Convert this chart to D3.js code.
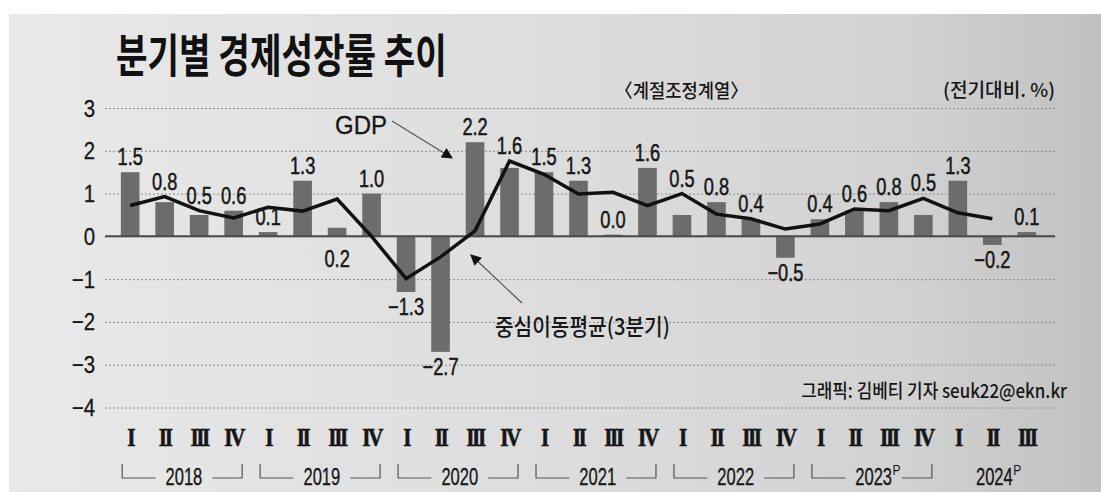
<!DOCTYPE html>
<html>
<head>
<meta charset="utf-8">
<script src="https://cdn.jsdelivr.net/npm/d3@7"></script>
<style>
  body { margin: 0; background: #fff; }
  svg { display: block; }
</style>
</head>
<body>
<svg id="chart" width="1101" height="492"></svg>
<script>

  // data (quarterly GDP growth, % q/q, seasonally adjusted)
  var years = ["2018", "2019", "2020", "2021", "2022", "2023", "2024"];
  var yearMarks = ["", "", "", "", "", "P", "P"];
  var quarterLabels = ["I", "II", "III", "IV"];
  var gdp = [1.5, 0.8, 0.5, 0.6, 0.1, 1.3, 0.2, 1.0, -1.3, -2.7, 2.2, 1.6, 1.5, 1.3, 0.04,
             1.6, 0.5, 0.8, 0.4, -0.5, 0.4, 0.6, 0.8, 0.5, 1.3, -0.2, 0.1];
  var movingAvg = [0.72, 0.93, 0.60, 0.43, 0.68, 0.59, 0.87, 0.0, -0.99, -0.48, 0.13, 1.76, 1.45,
                   0.99, 1.03, 0.72, 1.0, 0.52, 0.41, 0.17, 0.29, 0.64, 0.60, 0.89, 0.55, 0.41];
  var yTicks = [-4, -3, -2, -1, 0, 1, 2, 3];

  var W = 1101, H = 492;
  var sansFont = "'Liberation Sans', Arial, sans-serif";
  var krFont = "'Noto Sans CJK KR', 'Noto Sans', sans-serif";
  var ink = "#161616";

  // quarter keys: "2018 I" ... "2024 III"
  var keys = [];
  years.forEach(function(yr) {
    quarterLabels.forEach(function(q) { keys.push(yr + " " + q); });
  });
  keys = keys.slice(0, gdp.length);

  var svg = d3.select("#chart");

  //=========================================================================
  // background panel
  //=========================================================================
  var defs = svg.append("defs");
  var grad = defs.append("linearGradient").attr("id", "bg")
    .attr("x1", "0").attr("y1", "0").attr("x2", "1").attr("y2", "0");
  grad.append("stop").attr("offset", "0").attr("stop-color", "#e9e9e9");
  grad.append("stop").attr("offset", "0.5").attr("stop-color", "#dddddd");
  grad.append("stop").attr("offset", "0.82").attr("stop-color", "#d2d2d2");
  grad.append("stop").attr("offset", "1").attr("stop-color", "#c1c1c1");

  var marker = defs.append("marker").attr("id", "arrow")
    .attr("viewBox", "0 0 10 10").attr("refX", 9).attr("refY", 5)
    .attr("markerWidth", 12).attr("markerHeight", 11).attr("markerUnits", "userSpaceOnUse")
    .attr("orient", "auto");
  marker.append("path").attr("d", "M0,0 L10,5 L0,10 Z").attr("fill", "#111");

  svg.append("rect").attr("x", 9).attr("y", 14)
    .attr("width", W - 9).attr("height", H - 14).attr("fill", "url(#bg)");

  //=========================================================================
  // scales
  //=========================================================================
  var x = d3.scaleBand().domain(keys).range([105, 1052]).padding(0.46);
  var y = d3.scaleLinear().domain([-4, 3]).range([407.5, 108]);
  var bw = x.bandwidth();
  function cx(i) { return x(keys[i]) + bw / 2; }

  // text squeezed horizontally (the original uses a condensed face)
  function squeezed(parent, str, px, py, sx, opts) {
    var g = parent.append("g").attr("transform", "translate(" + px + "," + py + ")");
    var t = g.append("text")
      .attr("text-anchor", opts.anchor || "middle")
      .attr("font-family", opts.family || sansFont)
      .attr("font-size", opts.size || 23)
      .attr("font-weight", opts.weight || "normal")
      .attr("fill", opts.fill || ink)
      .attr("transform", "scale(" + sx + ",1)")
      .text(str);
    if (opts.spacing) t.attr("letter-spacing", opts.spacing);
    if (opts.stroke) t.attr("stroke", opts.fill || ink).attr("stroke-width", opts.stroke);
    return t;
  }

  // text squeezed to a given width
  function fitted(parent, str, px, py, width, opts) {
    var t = squeezed(parent, str, px, py, 1, opts);
    var len = t.node().getComputedTextLength();
    t.attr("transform", "scale(" + (width / len) + ",1)");
    return t;
  }

  //=========================================================================
  // grid + y labels
  //=========================================================================
  var grid = svg.append("g")
    .attr("transform", "translate(105,0)")
    .call(d3.axisLeft(y).tickValues(yTicks).tickSize(-950).tickFormat(""));
  grid.select(".domain").remove();
  grid.selectAll(".tick line")
    .attr("stroke", "#8c8c8c")
    .attr("stroke-width", 1)
    .attr("stroke-dasharray", "2,2");

  var fmtTick = function(v) { return (v < 0 ? "\u2212" : "") + Math.abs(v); };
  yTicks.forEach(function(t) {
    squeezed(svg, fmtTick(t), 95, y(t) + 8.5, 0.85, { anchor: "end", size: 24, stroke: 0.3 });
  });

  //=========================================================================
  // bars
  //=========================================================================
  svg.append("g").selectAll("rect")
    .data(gdp)
    .enter()
    .append("rect")
    .attr("x", function(d, i) { return x(keys[i]); })
    .attr("width", bw)
    .attr("y", function(d) { return y(Math.max(0, d)); })
    .attr("height", function(d) { return Math.abs(y(d) - y(0)); })
    .attr("fill", "#6c6c6c");

  // zero line
  svg.append("line")
    .attr("x1", 105).attr("x2", 1055)
    .attr("y1", y(0)).attr("y2", y(0))
    .attr("stroke", "#4a4a4a").attr("stroke-width", 2);

  //=========================================================================
  // moving average line
  //=========================================================================
  var line = d3.line()
    .x(function(d, i) { return cx(i); })
    .y(function(d) { return y(d); });

  svg.append("path")
    .datum(movingAvg)
    .attr("d", line)
    .attr("fill", "none")
    .attr("stroke", "#111")
    .attr("stroke-width", 3.5)
    .attr("stroke-linejoin", "miter");

  //=========================================================================
  // value labels
  //=========================================================================
  var fmtVal = function(v) { return (v < 0 ? "\u2212" : "") + Math.abs(v).toFixed(1); };
  var belowZero = { "2019 III": true };

  gdp.forEach(function(v, i) {
    var base;
    var m = movingAvg[i];
    if (belowZero[keys[i]]) {
      base = y(0) + 31;
    } else if (v < 0) {
      base = y(v) + 23;
    } else {
      var top = v;
      if (m !== undefined && m > v && m - v <= 0.5) top = m;
      base = y(top) - 7;
    }
    squeezed(svg, fmtVal(v), cx(i), base, 0.76, { size: 24, stroke: 0.5 });
  });

  //=========================================================================
  // x axis: quarters and years
  //=========================================================================
  keys.forEach(function(k, i) {
    var q = k.split(" ")[1];
    squeezed(svg, q, cx(i), 446, 0.82, {
      size: 26, family: "'Liberation Serif', 'DejaVu Serif', serif",
      weight: "bold", spacing: -3, stroke: 0.6
    });
  });

  years.forEach(function(yr, j) {
    var idx = [];
    keys.forEach(function(k, i) { if (k.indexOf(yr) === 0) idx.push(i); });
    var left = cx(idx[0]), right = cx(idx[idx.length - 1]);
    var mid = (left + right) / 2;
    var t = squeezed(svg, yr, mid + 2, 485, 0.72, { size: 23, stroke: 0.3 });
    var half = t.node().getComputedTextLength() * 0.72 / 2;
    var textEnd = mid + 2 + half;
    if (yearMarks[j]) {
      squeezed(svg, yearMarks[j], textEnd + 0.5, 475, 0.8, { size: 15, anchor: "start" });
      textEnd += 8;
    }
    if (idx.length === 4) {
      var bl = left - 8, br = right + 8.5, by = 478, bt = 464;
      svg.append("path")
        .attr("d", "M" + bl + "," + bt + "V" + by + "H" + (mid + 2 - half - 10))
        .attr("fill", "none").attr("stroke", "#555").attr("stroke-width", 1.2);
      svg.append("path")
        .attr("d", "M" + (textEnd + (yearMarks[j] ? 2 : 10)) + "," + by + "H" + br + "V" + bt)
        .attr("fill", "none").attr("stroke", "#555").attr("stroke-width", 1.2);
    }
  });

  //=========================================================================
  // titles and notes
  //=========================================================================
  fitted(svg, "분기별 경제성장률 추이", 116, 72, 331,
    { anchor: "start", size: 46, weight: "bold", family: krFont, fill: "#111" });
  fitted(svg, "〈계절조정계열〉", 615, 98, 133,
    { anchor: "start", size: 19, weight: 500, family: krFont });
  fitted(svg, "(전기대비. %)", 1055, 97, 112,
    { anchor: "end", size: 19, weight: 500, family: krFont });
  fitted(svg, "그래픽: 김베티 기자 seuk22@ekn.kr", 1067, 398, 266,
    { anchor: "end", size: 19, weight: 500, family: krFont });

  // annotations
  fitted(svg, "GDP", 335, 134, 52, { anchor: "start", size: 26, stroke: 0.3 });
  svg.append("line")
    .attr("x1", 392).attr("y1", 121).attr("x2", 452).attr("y2", 158)
    .attr("stroke", "#555").attr("stroke-width", 1.2)
    .attr("marker-end", "url(#arrow)");

  fitted(svg, "중심이동평균(3분기)", 495, 335, 175,
    { anchor: "start", size: 23, weight: 500, family: krFont });
  svg.append("line")
    .attr("x1", 522).attr("y1", 303).attr("x2", 471).attr("y2", 255)
    .attr("stroke", "#555").attr("stroke-width", 1.2)
    .attr("marker-end", "url(#arrow)");

</script>
</body>
</html>
